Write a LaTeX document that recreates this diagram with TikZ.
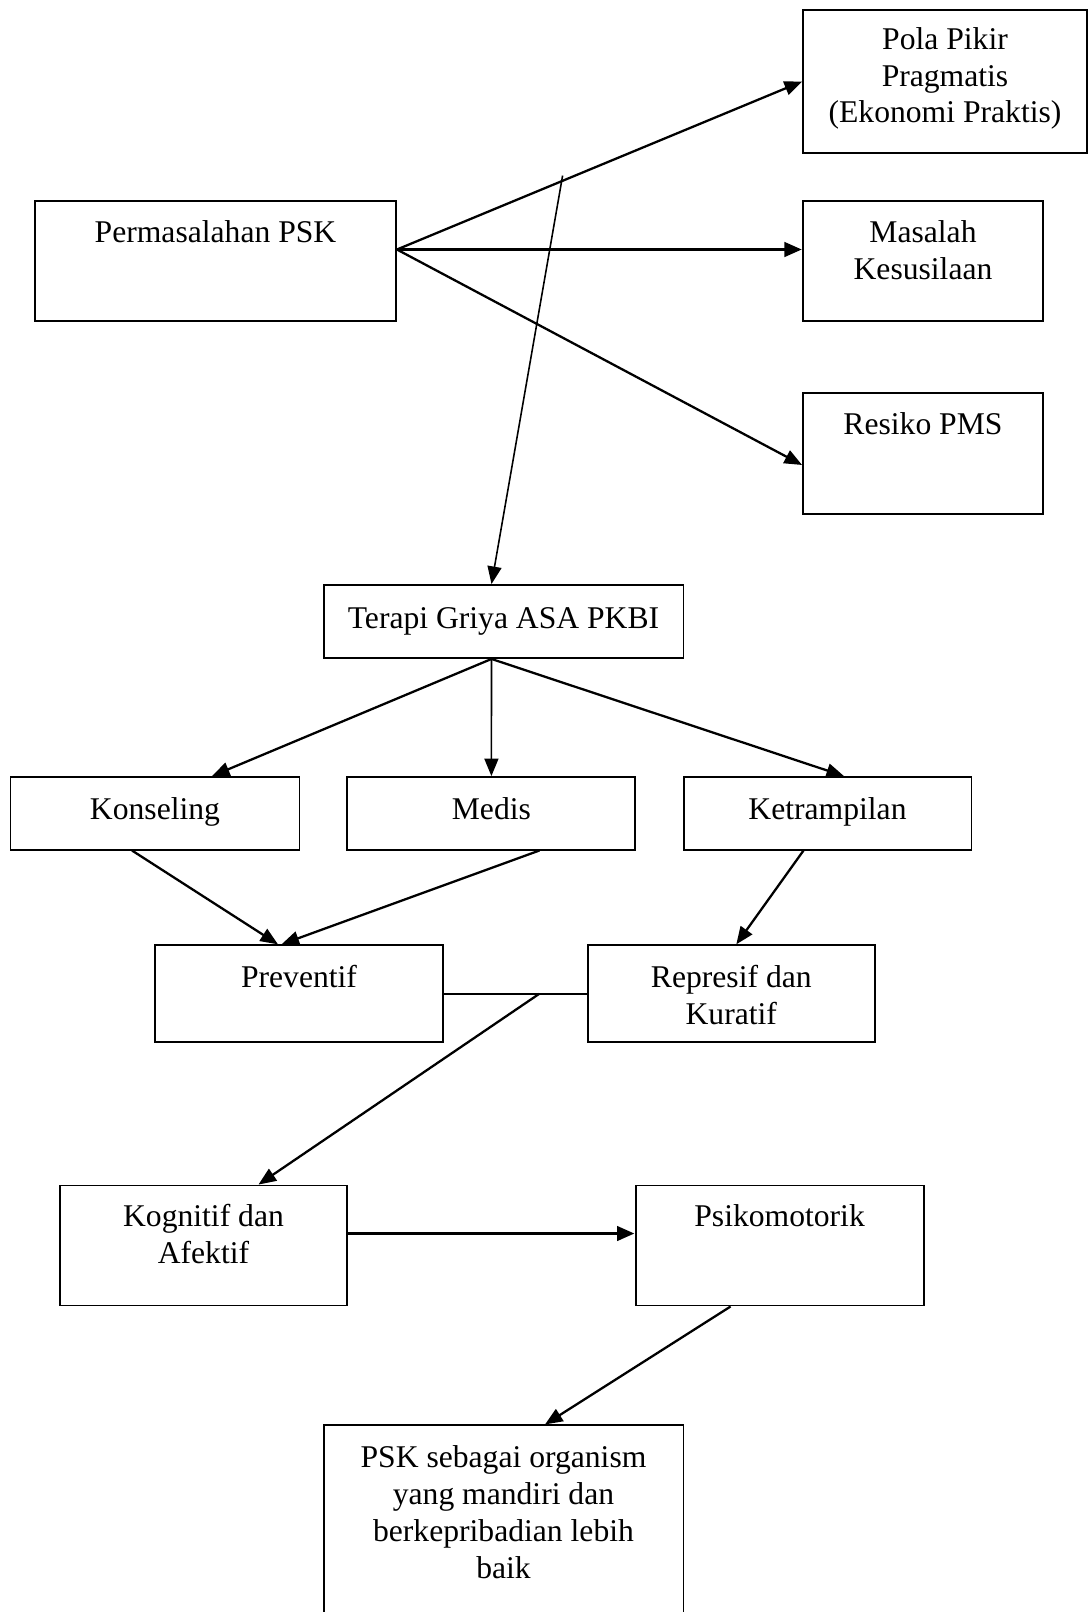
\documentclass[tikz,border=0pt]{standalone}
\usepackage{fontspec}
\setmainfont{Liberation Serif}
\usetikzlibrary{arrows.meta,calc}
\begin{document}
\begin{tikzpicture}[x=0.02cm,y=-0.02cm,
  box/.style={draw, line width=1.1pt, inner sep=0pt},
  txt/.style={align=center, anchor=base, inner sep=0pt, font=\fontsize{18}{21}\selectfont},
  arr/.style={line width=1.3pt, -{Triangle[length=10pt,width=8pt]}},
  thickarr/.style={arr, line width=2.2pt},
  thinarr/.style={arr, line width=0.9pt},
  plain/.style={line width=1.2pt}]
\useasboundingbox (0,0) rectangle (1089,1612);
% boxes
\node[box, minimum width=5.68cm, minimum height=2.86cm] (pola) at (945,81.5) {};
\node[box, minimum width=7.22cm, minimum height=2.40cm] (perm) at (215.5,261) {};
\node[box, minimum width=4.80cm, minimum height=2.40cm] (mas) at (923,261) {};
\node[box, minimum width=4.80cm, minimum height=2.42cm] (res) at (923,453.5) {};
\node[box, minimum width=7.20cm, minimum height=1.46cm] (ter) at (503.5,621.5) {};
\node[box, minimum width=5.78cm, minimum height=1.45cm] (kon) at (155,813.3) {};
\node[box, minimum width=5.76cm, minimum height=1.45cm] (med) at (491.4,813.3) {};
\node[box, minimum width=5.76cm, minimum height=1.45cm] (ket) at (827.5,813.3) {};
\node[box, minimum width=5.76cm, minimum height=1.94cm] (pre) at (299,993.8) {};
\node[box, minimum width=5.75cm, minimum height=1.94cm] (rep) at (731.3,993.8) {};
\node[box, minimum width=5.75cm, minimum height=2.40cm] (kog) at (203.5,1245.5) {};
\node[box, minimum width=5.76cm, minimum height=2.40cm] (psi) at (779.6,1245.5) {};
\node[box, minimum width=7.20cm, minimum height=4.00cm] (psk) at (503.5,1525.4) {};
% texts (base = last line's baseline)
\node[txt] (pola-t) at (945,123) {Pola Pikir\\Pragmatis\\(Ekonomi Praktis)};
\node[txt] (perm-t) at (215.5,242) {Permasalahan PSK};
\node[txt] (mas-t) at (923,279) {Masalah\\Kesusilaan};
\node[txt] (res-t) at (923,434) {Resiko PMS};
\node[txt] (ter-t) at (503.5,628) {Terapi Griya ASA PKBI};
\node[txt] (kon-t) at (155,819) {Konseling};
\node[txt] (med-t) at (491.4,819) {Medis};
\node[txt] (ket-t) at (827.5,819) {Ketrampilan};
\node[txt] (pre-t) at (299,987) {Preventif};
\node[txt] (rep-t) at (731.3,1024) {Represif dan\\Kuratif};
\node[txt] (kog-t) at (203.5,1263.5) {Kognitif dan\\Afektif};
\node[txt] (psi-t) at (779.6,1226.5) {Psikomotorik};
\node[txt] (psk-t) at (503.5,1578) {PSK sebagai organism\\yang mandiri dan\\berkepribadian lebih\\baik};
% connectors
\coordinate (src) at ([yshift=0.23cm]perm.east);
\draw[arr] (src) -- (pola.west);
\draw[thickarr] (src) -- ([yshift=0.23cm]mas.west);
\draw[arr] (src) -- ([yshift=-0.23cm]res.west);
\coordinate (lstart) at (562.6,175.6);
\draw[thinarr] (lstart) -- ([xshift=-0.24cm]ter.north);
\coordinate (tout) at ([xshift=-0.24cm]ter.south);
\draw[arr] (tout) -- ([xshift=1.14cm]kon.north);
\draw[thinarr] (tout) -- (med.north);
\draw[arr] (tout) -- ([xshift=0.33cm]ket.north);
\draw[arr] ([xshift=-0.46cm]kon.south) -- ([xshift=-0.42cm]pre.north);
\draw[arr] ([xshift=0.96cm]med.south) -- ([xshift=-0.35cm]pre.north);
\draw[arr] ([xshift=-0.48cm]ket.south) -- ([xshift=0.1cm]rep.north);
\draw[plain] (pre.east) -- (rep.west);
\coordinate (br) at ($(pre.east)!0.668!(rep.west)$);
\draw[arr] (br) -- ([xshift=1.1cm]kog.north);
\draw[thickarr] ([yshift=0.24cm]kog.east) -- ([yshift=0.24cm]psi.west);
\draw[arr] ([xshift=-0.98cm]psi.south) -- ([xshift=0.83cm]psk.north);
\end{tikzpicture}
\end{document}
